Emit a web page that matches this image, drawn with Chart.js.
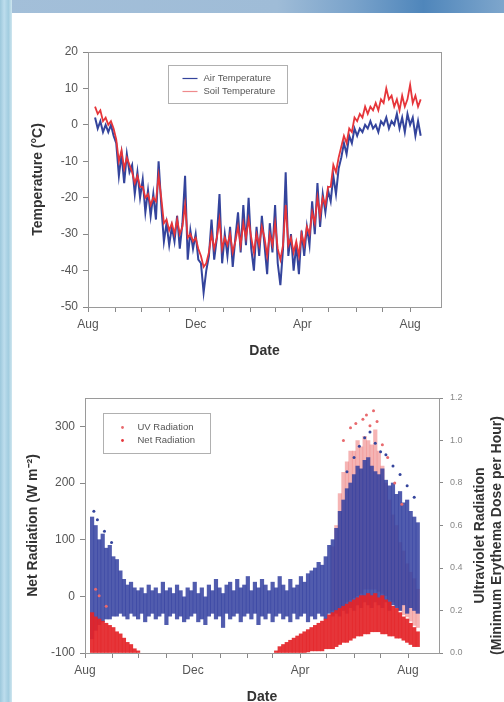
<!DOCTYPE html>
<html>
<head>
<meta charset="utf-8">
<script src="https://cdn.jsdelivr.net/npm/chart.js@4.4.1/dist/chart.umd.min.js"></script>
<style>
  html, body { margin: 0; padding: 0; width: 504px; height: 702px; overflow: hidden; background: #fff; }
  #topband { position: absolute; left: 0; top: 0; width: 504px; height: 13px;
    background: linear-gradient(90deg, #a3bfd9 0%, #9fbcd7 55%, #7aa3cb 70%, #4f86bb 84%, #7ea6cc 100%); }
  #leftband { position: absolute; left: 0; top: 0; width: 12px; height: 702px;
    background: linear-gradient(90deg, #9cc8dc 0%, #bddded 35%, #a2cde0 70%, #cfe6ef 100%); }
  .wrap { position: absolute; left: 0; }
  #w1 { top: 0; }
  #w2 { top: 370px; }
</style>
</head>
<body>
<div id="topband"></div>
<div id="leftband"></div>
<div class="wrap" id="w1"><canvas id="tempChart" width="504" height="370"></canvas></div>
<div class="wrap" id="w2"><canvas id="radChart" width="504" height="340"></canvas></div>
<script>
// --- AXIS TICKS ---
// days counted from 1 Aug
const monthTicks = [0, 31, 61, 92, 122, 153, 184, 212, 243, 273, 304, 334, 365];
const monthLabels = ['Aug', '', '', '', 'Dec', '', '', '', 'Apr', '', '', '', 'Aug'];
const tempTicks = [-50, -40, -30, -20, -10, 0, 10, 20];
const netTicks = [-100, 0, 100, 200, 300];
const uvTicks = [0, 0.2, 0.4, 0.6, 0.8, 1.0, 1.2];

// --- TEMPERATURE (read every 3 days) ---
const tempDays = [8,11,14,17,20,23,26,29,32,35,38,41,44,47,50,53,56,59,62,65,68,71,74,77,80,83,86,89,92,95,
  98,101,104,107,110,113,116,119,122,125,128,131,134,137,140,143,146,149,152,155,158,161,164,167,170,173,176,179,182,185,
  188,191,194,197,200,203,206,209,212,215,218,221,224,227,230,233,236,239,242,245,248,251,254,257,260,263,266,269,272,275,
  278,281,284,287,290,293,296,299,302,305,308,311,314,317,320,323,326,329,332,335,338,341,344,347,350,353,356,359,362,365,
  368,371,374,377];
const airTemp = [2,-1,1,-2,0,-2,0,-3,-5,-14,
  -8,-16,-8,-13,-11,-19,-13,-20,-15,-24,
  -18,-25,-19,-26,-10,-22,-32,-27,-33,-28,
  -32,-25,-34,-27,-14,-37,-29,-34,-30,-37,
  -38,-46,-40,-36,-26,-37,-31,-19,-38,-30,
  -36,-28,-39,-31,-24,-35,-22,-33,-20,-34,
  -40,-28,-36,-25,-33,-41,-27,-35,-22,-38,
  -44,-34,-13,-36,-30,-40,-33,-41,-29,-36,
  -28,-33,-21,-30,-16,-28,-19,-24,-18,-21,
  -14,-19,-12,-9,-5,-8,-3,-5,-1,-3,
  -1,-2,0,-1,1,-1,0,-2,1,0,
  2,-1,1,0,3,-1,2,-2,3,0,
  2,-3,1,-3];
const soilTemp = [5,3,4,1,2,0,1,-1,-4,-10,
  -7,-12,-9,-11,-13,-16,-14,-17,-17,-20,
  -19,-22,-20,-21,-14,-20,-27,-26,-29,-27,
  -30,-26,-30,-28,-22,-31,-30,-32,-31,-34,
  -36,-39,-38,-35,-30,-34,-31,-26,-34,-31,
  -33,-30,-35,-32,-28,-33,-27,-31,-26,-31,
  -35,-30,-33,-28,-31,-36,-30,-33,-27,-34,
  -37,-33,-22,-33,-31,-35,-32,-36,-30,-33,
  -28,-30,-24,-27,-20,-25,-20,-22,-17,-17,
  -11,-13,-9,-6,-3,-5,-1,-2,2,1,
  3,2,5,3,5,4,6,4,7,6,
  10,7,8,5,7,4,8,5,7,11,
  6,8,5,7];

// --- NET RADIATION (W m-2), spread of readings every 4 days ---
const radDays = [8,12,16,20,24,28,32,36,40,44,48,52,56,60,64,68,72,76,80,84,88,92,96,100,104,108,112,116,120,124,
  128,132,136,140,144,148,152,156,160,164,168,172,176,180,184,188,192,196,200,204,208,212,216,220,224,228,232,236,240,244,
  248,252,256,260,264,268,272,276,280,284,288,292,296,300,304,308,312,316,320,324,328,332,336,340,344,348,352,356,360,364,
  368,372,376];
const netHigh = [140,125,100,110,85,90,70,65,45,30,
  20,25,15,10,15,5,20,10,15,5,
  25,10,15,5,20,10,0,15,10,25,
  5,15,0,20,10,30,15,5,20,25,
  10,30,15,20,35,10,25,15,30,20,
  10,25,15,35,20,10,30,15,20,35,
  25,40,45,50,60,55,70,90,100,120,
  150,170,190,200,215,230,225,240,245,230,
  220,215,225,205,195,200,180,185,165,170,
  150,140,130];
const netLow = [-75,-60,-50,-45,-40,-40,-35,-35,-30,-35,
  -40,-30,-35,-40,-30,-45,-35,-30,-40,-35,
  -30,-50,-35,-30,-40,-35,-45,-40,-35,-30,
  -45,-40,-50,-35,-30,-40,-35,-55,-30,-40,
  -35,-30,-45,-35,-30,-40,-30,-50,-35,-40,
  -30,-45,-35,-30,-40,-35,-45,-30,-40,-35,
  -30,-45,-35,-40,-30,-35,-40,-30,-35,-30,
  -35,-25,-30,-20,-25,-15,-20,-10,-15,-20,
  -10,-15,-20,-10,-25,-15,-20,-25,-15,-30,
  -20,-25,-30];
const netOutDays = [10,14,22,30,296,304,310,316,322,328,334,340,348,356,364,372];
const netOutVals = [150,135,115,95,220,245,265,280,290,270,255,250,230,215,195,175];

// --- UV RADIATION (MED per hour) ---
const uvDays = [8,12,16,20,24,28,32,36,40,44,48,52,56,60,
  216,220,224,228,232,236,240,244,248,252,256,260,264,268,272,276,280,284,288,292,
  296,300,304,308,312,316,320,324,328,332,336,340,344,348,352,356,360,364,368,372,376];
const uvLow = [0,0,0,0,0,0,0,0,0,0,0,0,0,0,
  0,0,0,0,0,0,0,0,0,0.005,0.01,0.01,0.01,0.01,0.02,0.02,0.02,0.03,0.04,0.05,
  0.05,0.06,0.07,0.08,0.08,0.09,0.09,0.10,0.10,0.10,0.09,0.09,0.08,0.08,0.07,0.07,0.06,0.05,0.04,0.03,0.03];
const uvHigh = [0.19,0.17,0.16,0.15,0.14,0.13,0.12,0.10,0.09,0.07,0.05,0.04,0.02,0.01,
  0.01,0.03,0.04,0.05,0.06,0.07,0.08,0.09,0.10,0.11,0.12,0.13,0.14,0.15,0.16,0.18,0.19,0.20,0.21,0.22,
  0.23,0.24,0.25,0.26,0.27,0.27,0.28,0.27,0.28,0.26,0.27,0.25,0.24,0.22,0.21,0.19,0.17,0.16,0.14,0.12,0.10];
// sparser summer UV readings
const uvSpreadDays = [280,284,288,292,296,300,304,308,312,316,320,324,328,332,336,340,344,348,352,356,360,364,368,372,376];
const uvSpreadLow = [0.20,0.20,0.20,0.22,0.24,0.25,0.26,0.27,0.28,0.30,0.30,0.30,0.30,0.29,0.28,0.27,0.25,0.24,0.22,0.20,0.18,0.17,0.15,0.13,0.12];
const uvSpreadHigh = [0.50,0.60,0.75,0.85,0.90,0.95,0.95,1.00,0.97,1.02,1.00,0.98,1.05,0.95,0.88,0.80,0.72,0.65,0.60,0.52,0.48,0.42,0.38,0.35,0.30];
const uvOutDays = [292,300,306,314,318,322,326,330,336,342,350,358,12,16,24];
const uvOutVals = [1.0,1.06,1.08,1.1,1.12,1.07,1.14,1.09,0.98,0.92,0.8,0.7,0.3,0.27,0.22];

// --- STYLE ---
const BLUE = '#34449c';
const RED = '#e6353a';
const FONT = '"Liberation Sans", Arial, sans-serif';
const tickFont = { family: FONT, size: 12 };
const titleFont = { family: FONT, size: 14, weight: 'bold' };

Chart.defaults.animation = false;
Chart.defaults.font.family = FONT;

const setTicks = list => s => { s.ticks = list.map(v => ({ value: v })); };
const tickGrid = { display: true, drawOnChartArea: false, drawTicks: true, tickLength: 5, tickColor: '#888' };

function xScale(h, titlePad) {
    return {
        type: 'linear', min: 0, max: 400, offset: false,
        afterBuildTicks: setTicks(monthTicks),
        afterFit: s => { s.height = h; },
        grid: Object.assign({ offset: false }, tickGrid),
        border: { display: false },
        ticks: { autoSkip: false, maxRotation: 0, padding: 5, color: '#555', font: tickFont,
                 callback: v => monthLabels[monthTicks.indexOf(v)] || '' },
        title: { display: true, text: 'Date', color: '#333', font: titleFont, padding: { bottom: titlePad } }
    };
}

// frame round the plot + legend box
function boxPlugin(id, items, box) {
    return {
        id: id,
        afterDatasetsDraw(chart) {
            const { ctx, chartArea: a } = chart;
            ctx.save();
            ctx.strokeStyle = '#9a9a9a';
            ctx.lineWidth = 1;
            ctx.strokeRect(Math.round(a.left) + 0.5, Math.round(a.top) + 0.5,
                           Math.round(a.right - a.left), Math.round(a.bottom - a.top));
            const bx = Math.round(a.left + box.dx) + 0.5, by = Math.round(a.top + box.dy) + 0.5;
            ctx.fillStyle = '#fff';
            ctx.fillRect(bx, by, box.w, box.h);
            ctx.strokeStyle = '#b0b0b0';
            ctx.strokeRect(bx, by, box.w, box.h);
            ctx.font = '9.5px ' + FONT;
            ctx.textBaseline = 'middle';
            items.forEach((it, i) => {
                const y = by + box.row0 + i * box.rowGap;
                ctx.strokeStyle = it.color;
                ctx.fillStyle = it.color;
                if (it.kind === 'line') {
                    ctx.lineWidth = 1.2;
                    ctx.beginPath();
                    ctx.moveTo(bx + box.mx, y);
                    ctx.lineTo(bx + box.mx + 15, y);
                    ctx.stroke();
                } else {
                    ctx.beginPath();
                    ctx.arc(bx + box.mx, y, 1.4, 0, Math.PI * 2);
                    ctx.fill();
                }
                ctx.fillStyle = '#555';
                ctx.fillText(it.label, bx + box.tx, y);
            });
            ctx.restore();
        }
    };
}

// --- TOP: TEMPERATURE ---
new Chart(document.getElementById('tempChart'), {
    type: 'line',
    data: {
        datasets: [
            { label: 'Air Temperature', data: tempDays.map((d, i) => ({ x: d, y: airTemp[i] })),
              borderColor: BLUE, borderWidth: 2, pointRadius: 0, tension: 0, order: 2 },
            { label: 'Soil Temperature', data: tempDays.map((d, i) => ({ x: d, y: soilTemp[i] })),
              borderColor: RED, borderWidth: 1.8, pointRadius: 0, tension: 0, order: 1 }
        ]
    },
    options: {
        responsive: false,
        layout: { padding: { left: 0, right: 63, top: 52, bottom: 0 } },
        plugins: { legend: { display: false }, tooltip: { enabled: false } },
        scales: {
            x: xScale(63, 10),
            y: {
                min: -50, max: 20,
                afterBuildTicks: setTicks(tempTicks),
                afterFit: s => { s.width = 88; },
                grid: tickGrid,
                border: { display: false },
                ticks: { padding: 5, color: '#555', font: tickFont },
                title: { display: true, text: 'Temperature (°C)', color: '#333', font: titleFont, padding: { top: 30 } }
            }
        }
    },
    plugins: [boxPlugin('tempBox', [
        { label: 'Air Temperature', color: BLUE, kind: 'line' },
        { label: 'Soil Temperature', color: '#ef8a8c', kind: 'line' }
    ], { dx: 80, dy: 13, w: 119, h: 38, row0: 13, rowGap: 13, mx: 14, tx: 35 })]
});

// --- BOTTOM: RADIATION ---
const uvTitle = {
    id: 'uvTitle',
    afterDraw(chart) {
        const { ctx } = chart;
        const s = chart.scales.yR;
        ctx.save();
        ctx.translate(0, (s.top + s.bottom) / 2 + 10);
        ctx.rotate(-Math.PI / 2);
        ctx.font = 'bold 14px ' + FONT;
        ctx.fillStyle = '#333';
        ctx.textAlign = 'center';
        ctx.textBaseline = 'middle';
        ctx.fillText('Ultraviolet Radiation', 0, 480);
        ctx.fillText('(Minimum Erythema Dose per Hour)', 0, 497);
        ctx.restore();
    }
};

const barBase = { type: 'bar', grouped: false, categoryPercentage: 1, barPercentage: 1, borderWidth: 0 };

new Chart(document.getElementById('radChart'), {
    type: 'bar',
    data: {
        datasets: [
            Object.assign({ label: 'UV spread', yAxisID: 'yR', order: 5,
              data: uvSpreadDays.map((d, i) => ({ x: d, y: [uvSpreadLow[i], uvSpreadHigh[i]] })),
              backgroundColor: 'rgba(238,130,130,0.6)' }, barBase),
            Object.assign({ label: 'Net Radiation', yAxisID: 'y', order: 4,
              data: radDays.map((d, i) => ({ x: d, y: [netLow[i], netHigh[i]] })),
              backgroundColor: 'rgba(50,64,160,0.85)' }, barBase),
            Object.assign({ label: 'UV Radiation', yAxisID: 'yR', order: 3,
              data: uvDays.map((d, i) => ({ x: d, y: [uvLow[i], uvHigh[i]] })),
              backgroundColor: 'rgba(228,36,40,0.92)' }, barBase),
            { type: 'line', label: 'Net outliers', yAxisID: 'y', order: 2, showLine: false,
              data: netOutDays.map((d, i) => ({ x: d, y: netOutVals[i] })),
              pointRadius: 1.5, pointBackgroundColor: BLUE, pointBorderWidth: 0 },
            { type: 'line', label: 'UV outliers', yAxisID: 'yR', order: 1, showLine: false,
              data: uvOutDays.map((d, i) => ({ x: d, y: uvOutVals[i] })),
              pointRadius: 1.5, pointBackgroundColor: '#e86a6e', pointBorderWidth: 0 }
        ]
    },
    options: {
        responsive: false,
        layout: { padding: { left: 0, right: 0, top: 28, bottom: 0 } },
        plugins: { legend: { display: false }, tooltip: { enabled: false } },
        scales: {
            x: xScale(57, 4),
            y: {
                position: 'left', min: -100, max: 350,
                afterBuildTicks: setTicks(netTicks),
                afterFit: s => { s.width = 85; },
                grid: tickGrid,
                border: { display: false },
                ticks: { padding: 5, color: '#555', font: tickFont },
                title: { display: true, text: 'Net Radiation (W m⁻²)', color: '#333', font: titleFont, padding: { top: 25 } }
            },
            yR: {
                position: 'right', min: 0, max: 1.2,
                afterBuildTicks: setTicks(uvTicks),
                afterFit: s => { s.width = 65; },
                grid: Object.assign({}, tickGrid, { tickLength: 4 }),
                border: { display: false },
                ticks: { padding: 7, color: '#888', font: { family: FONT, size: 9 }, callback: v => v.toFixed(1) }
            }
        }
    },
    plugins: [uvTitle, boxPlugin('radBox', [
        { label: 'UV Radiation', color: '#e86a6e', kind: 'dot' },
        { label: 'Net Radiation', color: RED, kind: 'dot' }
    ], { dx: 18, dy: 15, w: 107, h: 40, row0: 14, rowGap: 13, mx: 19, tx: 34 })]
});
</script>
</body>
</html>
